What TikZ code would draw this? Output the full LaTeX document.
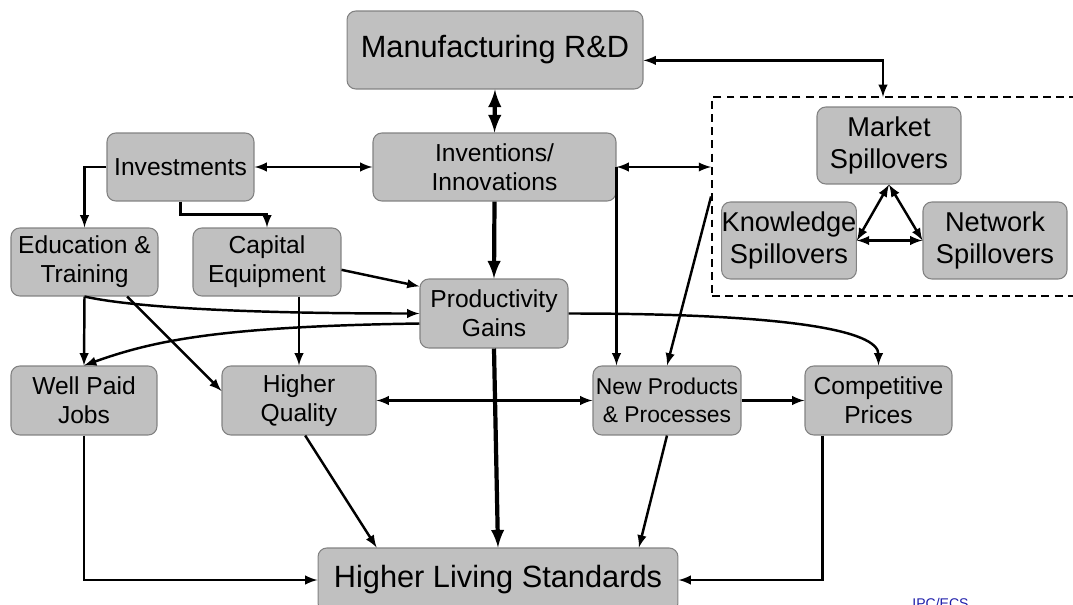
\documentclass[tikz,border=0pt]{standalone}
\usepackage{fontspec}
\setmainfont{Liberation Sans}
\usepackage{tikz}
\usetikzlibrary{arrows}
\usetikzlibrary{shapes,positioning,calc}
\definecolor{boxgray}{RGB}{192,192,192}
\definecolor{edgegray}{RGB}{130,130,130}
\definecolor{tagblue}{RGB}{30,30,170}

\begin{document}
\begin{tikzpicture}[x=0.02cm,y=-0.02cm,>=latex,
		box/.style={draw=edgegray,fill=boxgray,rounded corners=5pt,align=center,inner sep=1pt,line width=0.6pt,font=\fontsize{14}{16.5}\selectfont},
		bigbox/.style={box,font=\fontsize{17.5}{20}\selectfont},
		spillbox/.style={box,inner xsep=0pt,minimum height=1.54cm,font=\fontsize{15.5}{18.5}\selectfont},
		link/.style={line width=1.4pt},
		mainlink/.style={line width=2.4pt}]
	\useasboundingbox (0,0) rectangle (1073,605);

	% boxes
	\node[bigbox,minimum width=5.92cm,minimum height=1.56cm] (mfg) at (495,50) {Manufacturing R\&D};
	\node[box,minimum width=4.86cm,minimum height=1.36cm] (inv) at (494.5,167) {Inventions/\\Innovations};
	\node[box,minimum width=2.94cm,minimum height=1.36cm] (invest) at (180.5,167) {Investments};
	\node[box,minimum width=2.94cm,minimum height=1.36cm] (edu) at (84.5,262) {Education \&\\Training};
	\node[box,minimum width=2.96cm,minimum height=1.36cm] (cap) at (267,262) {Capital\\Equipment};
	\node[box,minimum width=2.96cm,minimum height=1.38cm] (prod) at (494,313.5) {Productivity\\Gains};
	\node[box,minimum width=2.92cm,minimum height=1.38cm] (wpj) at (84,400.5) {Well Paid\\Jobs};
	\node[box,minimum width=3.08cm,minimum height=1.38cm] (hq) at (299,400.5) {Higher\\Quality};
	\node[box,minimum width=2.96cm,minimum height=1.38cm,inner xsep=0pt,font=\fontsize{13}{16}\selectfont] (np) at (667,400.5) {New Products\\\& Processes};
	\node[box,minimum width=2.94cm,minimum height=1.38cm] (cp) at (878.5,400.5) {Competitive\\Prices};
	\node[bigbox,minimum width=7.2cm,minimum height=1.28cm] (hls) at (498,580) {Higher Living Standards};

	% spillover group
	\node[draw,dashed,line width=1.1pt,dash pattern=on 4.5pt off 3pt,minimum width=7.46cm,minimum height=3.98cm] (spill) at (898.5,196.5) {};
	\coordinate (spilltop) at (883,97);
	\node[spillbox,minimum width=2.88cm] (mkt) at (889,145.5) {Market\\Spillovers};
	\node[spillbox,minimum width=2.68cm] (know) at (789,240.5) {Knowledge\\Spillovers};
	\node[spillbox,minimum width=2.88cm] (net) at (995,240.5) {Network\\Spillovers};
	\draw[link,<->] (mkt.south) -- (know.east);
	\draw[link,<->] (mkt.south) -- (net.west);
	\draw[link,<->] (know.east) -- (net.west);

	% links
	\draw[mainlink,<->] (mfg.south) -- (inv.north);
	\draw[link,<->] (mfg.-4) -| (spilltop);
	\draw[link,<->] (invest.east) -- (inv.west);
	\draw[link,<->] (inv.east) -- (inv.east -| spill.west);
	\draw[link,->] (inv.east) -- (inv.east |- np.north);
	\draw[link,->] (spill.west) -- (np.north);
	\draw[link,->] (invest.west) -| (edu.north);
	\draw[link,->] (invest.south) -- ++(0,13) -| (cap.north);
	\draw[mainlink,->] (inv.south) -- (prod.north);
	\draw[link,->] (cap.-6) -- (prod.160);
	\draw[link,->] (edu.south) .. controls +(40,9) and +(-200,0) .. (prod.west);
	\draw[link,->] ($(prod.west)+(0,10)$) .. controls +(-200,3) and +(70,-25) .. (wpj.north);
	\draw[link,->] (prod.east) .. controls +(220,0) and +(0,-35) .. (cp.north);
	\draw[link,->] (edu.south) -- (wpj.north);
	\draw[link,->] (edu.-39) -- (hq.173);
	\draw[link,->] (cap.south -| hq.north) -- (hq.north);
	\draw[link,<->] (hq.east) -- (np.west);
	\draw[link,->] (np.east) -- (cp.west);
	\draw[link,->] (wpj.south) |- (hls.west);
	\draw[link,->] (hq.-80) -- (hls.165);
	\draw[mainlink,->] (prod.south) -- (hls.north);
	\draw[link,->] (np.south) -- (hls.13);
	\draw[link,->] (cp.-148) |- (hls.east);

	\node[anchor=base west,inner sep=0pt,text=tagblue,font=\fontsize{8}{9}\selectfont] (tag) at (912,608) {IPC/ECS};
\end{tikzpicture}
\end{document}
